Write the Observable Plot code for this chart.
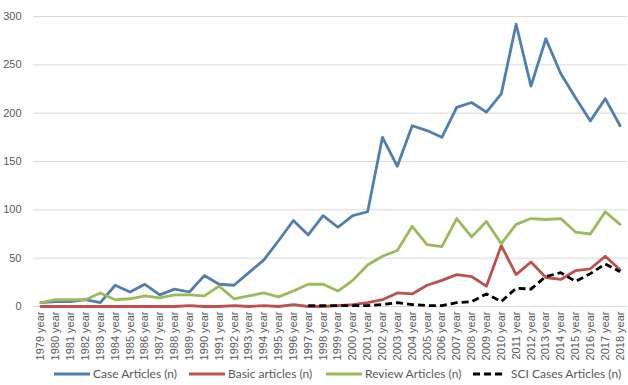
<!DOCTYPE html>
<html>
<head>
<meta charset="utf-8">
<script src="https://cdn.jsdelivr.net/npm/d3@7"></script>
<script src="https://cdn.jsdelivr.net/npm/@observablehq/plot@0.6"></script>
<style>
  body { margin: 0; background: #fff; font-family: "Liberation Sans", Arial, sans-serif; }
  #legend { display: flex; align-items: center; height: 23px; padding-left: 54px; font-family: Lato, "Liberation Sans", sans-serif; font-size: 12px; color: #595959; white-space: nowrap; width: 628px; box-sizing: border-box; }
  .item { display: flex; align-items: center; flex-shrink: 0; white-space: nowrap; }
  .item svg { margin-right: 3px; flex-shrink: 0; }
</style>
</head>
<body>
<div id="chart"></div>
<div id="legend"></div>
<script>
const years = d3.range(1979, 2019);
const yearLabels = years.map(y => y + " year");
const yTicks = [0, 50, 100, 150, 200, 250, 300];

const caseArticles = [4,5,5,7,4,22,15,23,12,18, 15,32,23,22,35,48,68,89,74,94, 82,94,98,175,145,187,182,175,206,211, 201,220,292,228,277,241,216,192,215,187];
const basicArticles = [0,0,0,0,0,0,0,0,0,0, 1,0,0,1,0,1,0,2,0,0, 1,2,4,7,14,13,22,27,33,31, 21,63,33,46,30,28,37,39,52,38];
const reviewArticles = [4,7,7,7,14,7,8,11,9,12, 12,11,21,8,11,14,10,16,23,23, 16,27,43,52,58,83,64,62,91,72, 88,65,85,91,90,91,77,75,98,85];
const sciCases = [null,null,null,null,null,null,null,null,null,null, null,null,null,null,null,null,null,null,1,1, 1,1,1,2,4,2,1,1,4,5, 13,5,19,18,31,35,26,34,44,36];

const seriesNames = ["Case Articles (n)", "Basic articles (n)", "Review Articles (n)", "SCI Cases Articles (n)"];
const seriesColors = ["#4F7FB0", "#C0504D", "#9BBB59", "#000000"];
const seriesValues = [caseArticles, basicArticles, reviewArticles, sciCases];
const legendWidths = [135, 137, 147, 150];

const rows = [];
seriesValues.forEach((vals, s) => {
  vals.forEach((v, i) => rows.push({series: seriesNames[s], year: yearLabels[i], value: v}));
});
const solid = rows.filter(d => d.series !== seriesNames[3]);
const dashed = rows.filter(d => d.series === seriesNames[3]);

const chart = Plot.plot({
  width: 628,
  height: 362,
  marginTop: 16,
  marginBottom: 56,
  marginLeft: 33,
  marginRight: 1,
  style: {fontFamily: "'Liberation Sans', Arial, sans-serif", fontSize: "11px", color: "#595959", background: "#fff"},
  x: {type: "point", domain: yearLabels, padding: 0.5, label: null, tickRotate: -90, tickSize: 0, tickPadding: 5},
  y: {domain: [0, 300], ticks: yTicks, label: null, tickSize: 0, tickPadding: 12},
  color: {domain: seriesNames, range: seriesColors},
  marks: [
    Plot.ruleY(yTicks, {stroke: "#d9d9d9", strokeWidth: 1}),
    Plot.line(solid, {x: "year", y: "value", z: "series", stroke: "series", strokeWidth: 2.8, strokeLinejoin: "round"}),
    Plot.line(dashed, {x: "year", y: "value", z: "series", stroke: "series", strokeWidth: 2.8, strokeDasharray: "7,4", strokeLinecap: "butt", strokeLinejoin: "round"})
  ]
});
document.getElementById("chart").appendChild(chart);

const legend = document.getElementById("legend");
seriesNames.forEach((name, i) => {
  const item = document.createElement("div");
  item.className = "item";
  item.style.width = legendWidths[i] + "px";
  const dash = i === 3 ? ' stroke-dasharray="7,4"' : '';
  const w = i === 3 ? 32 : 36;
  item.innerHTML = `<svg width="${w}" height="6"><line x1="0" y1="3" x2="${w}" y2="3" stroke="${seriesColors[i]}" stroke-width="3"${dash}/></svg><span style="margin-left:${i === 3 ? 3 : 0}px">${name}</span>`;
  legend.appendChild(item);
});
</script>
</body>
</html>
